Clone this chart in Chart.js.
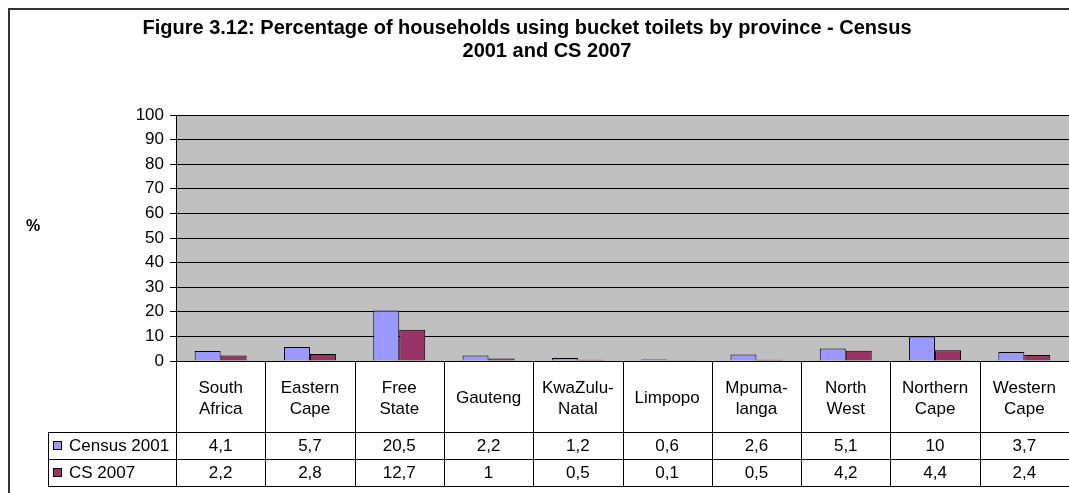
<!DOCTYPE html>
<html>
<head>
<meta charset="utf-8">
<script src="https://cdn.jsdelivr.net/npm/chart.js@4.4.1/dist/chart.umd.min.js"></script>
<style>
  html, body { margin: 0; padding: 0; background: #ffffff; }
  #wrap { position: relative; width: 1069px; height: 493px; }
  canvas { display: block; }
</style>
</head>
<body>
<div id="wrap"><canvas id="c" width="1069" height="493"></canvas></div>
<script>
// ---- Data ----
const titleLines = ["Figure 3.12: Percentage of households using bucket toilets by province - Census", "2001 and CS 2007"];
const yAxisTitle = "%";
const categories = [["South", "Africa"], ["Eastern", "Cape"], ["Free", "State"], ["Gauteng"], ["KwaZulu-", "Natal"], ["Limpopo"], ["Mpuma-", "langa"], ["North", "West"], ["Northern", "Cape"], ["Western", "Cape"]];
const seriesNames = ["Census 2001", "CS 2007"];
const census2001 = [4.1, 5.7, 20.5, 2.2, 1.2, 0.6, 2.6, 5.1, 10, 3.7];
const cs2007 = [2.2, 2.8, 12.7, 1, 0.5, 0.1, 0.5, 4.2, 4.4, 2.4];
const yTickValues = [0, 10, 20, 30, 40, 50, 60, 70, 80, 90, 100];

const seriesColors = ["#9999FF", "#993366"];
const FONT = "'Liberation Sans', Arial, sans-serif";

function fmt(v) { return String(v).replace('.', ','); }

const plotBg = {
  id: 'plotBg',
  beforeDraw(chart) {
    const { ctx, chartArea: a } = chart;
    ctx.save();
    ctx.fillStyle = '#C0C0C0';
    ctx.fillRect(a.left, a.top, a.right - a.left, a.bottom - a.top);
    ctx.restore();
  }
};

const frameAndTable = {
  id: 'frameAndTable',
  afterDraw(chart) {
    const { ctx, chartArea: a } = chart;
    const xs = chart.scales.x;
    const n = categories.length;
    const colW = (a.right - a.left) / n;
    const rowTop = 432, rowMid = 459, rowBot = 486, tblLeft = 48;
    ctx.save();
    // outer frame
    ctx.strokeStyle = '#333333';
    ctx.lineWidth = 2;
    ctx.beginPath();
    ctx.moveTo(9, 520); ctx.lineTo(9, 9); ctx.lineTo(1080, 9);
    ctx.stroke();

    // title
    ctx.fillStyle = '#000';
    ctx.textAlign = 'center';
    ctx.textBaseline = 'middle';
    ctx.font = "bold 20px " + FONT;
    ctx.fillText(titleLines[0], 527, 28);
    ctx.fillText(titleLines[1], 547, 51);

    // y axis title
    ctx.font = "bold 16px " + FONT;
    ctx.fillText(yAxisTitle, 33, 227);

    // table lines
    ctx.strokeStyle = '#000';
    ctx.lineWidth = 1;
    ctx.beginPath();
    for (let i = 0; i <= n; i++) {
      const x = Math.round(a.left + i * colW) + 0.5;
      ctx.moveTo(x, a.bottom); ctx.lineTo(x, rowBot);
    }
    ctx.moveTo(tblLeft + 0.5, rowTop); ctx.lineTo(tblLeft + 0.5, rowBot + 0.5);
    [rowTop, rowMid, rowBot].forEach(y => {
      ctx.moveTo(tblLeft, y + 0.5); ctx.lineTo(a.right + 5, y + 0.5);
    });
    ctx.stroke();

    // category labels
    ctx.font = "17px " + FONT;
    ctx.fillStyle = '#000';
    for (let i = 0; i < n; i++) {
      const cx = xs.getPixelForValue(i);
      const lines = categories[i];
      if (lines.length === 1) {
        ctx.fillText(lines[0], cx, 398);
      } else {
        ctx.fillText(lines[0], cx, 388);
        ctx.fillText(lines[1], cx, 409);
      }
      ctx.fillText(fmt(census2001[i]), cx, (rowTop + rowMid) / 2 + 1);
      ctx.fillText(fmt(cs2007[i]), cx, (rowMid + rowBot) / 2 + 1);
    }

    // legend keys in table
    const rows = [[rowTop, rowMid], [rowMid, rowBot]];
    ctx.textAlign = 'left';
    rows.forEach((r, k) => {
      const cy = (r[0] + r[1]) / 2;
      ctx.fillStyle = seriesColors[k];
      ctx.fillRect(53.5, cy - 4, 8, 8);
      ctx.strokeStyle = '#000';
      ctx.strokeRect(53.5, cy - 4, 8, 8);
      ctx.fillStyle = '#000';
      ctx.fillText(seriesNames[k], 69, cy + 1);
    });
    ctx.restore();
  }
};

new Chart(document.getElementById('c'), {
  type: 'bar',
  data: {
    labels: categories,
    datasets: [
      { label: seriesNames[0], data: census2001, backgroundColor: seriesColors[0], borderColor: '#000', borderWidth: 1 },
      { label: seriesNames[1], data: cs2007, backgroundColor: seriesColors[1], borderColor: '#000', borderWidth: 1 }
    ]
  },
  options: {
    responsive: false,
    animation: false,
    devicePixelRatio: 1,
    categoryPercentage: 0.582,
    barPercentage: 1.0,
    layout: { padding: { left: 0, right: 0, top: 115, bottom: 132 } },
    plugins: {
      legend: { display: false },
      title: { display: false },
      tooltip: { enabled: false }
    },
    scales: {
      x: {
        display: false,
        offset: true
      },
      y: {
        min: 0, max: 100,
        afterFit(scale) { scale.width = 176; },
        afterBuildTicks(scale) { scale.ticks = yTickValues.map(v => ({ value: v })); },
        ticks: {
          color: '#000',
          font: { family: FONT, size: 17 },
          padding: 6
        },
        grid: {
          color: '#000',
          lineWidth: 1,
          tickLength: 6,
          tickColor: '#000'
        },
        border: { display: true, color: '#000', width: 1 }
      }
    }
  },
  plugins: [plotBg, frameAndTable]
});
</script>
</body>
</html>
